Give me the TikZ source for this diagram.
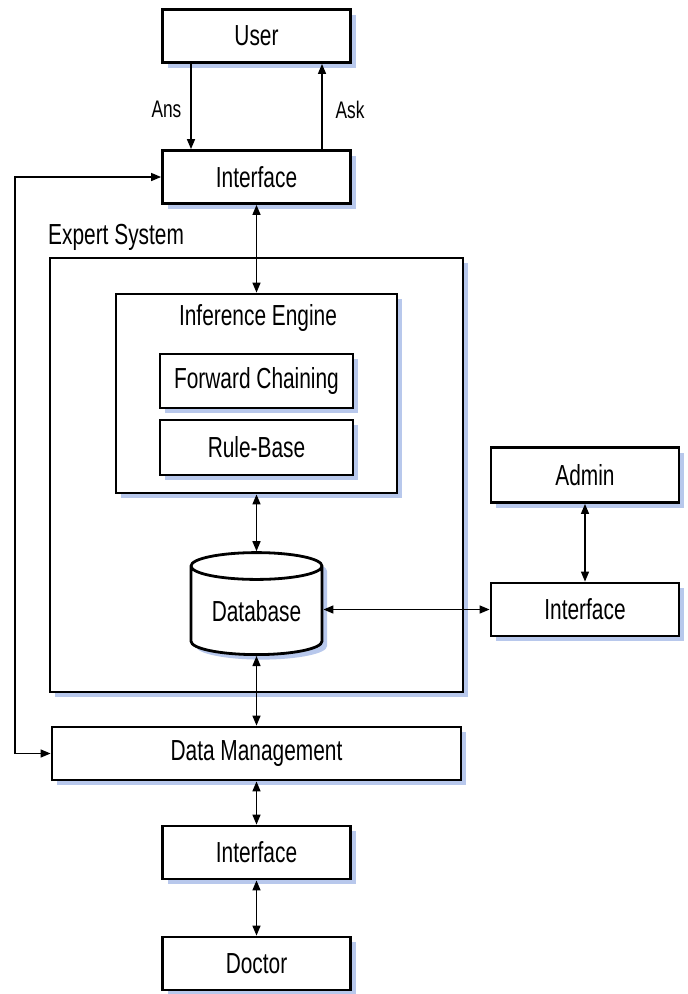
\documentclass[tikz,border=0pt]{standalone}
\usepackage{fontspec}
\newfontfamily\diagfont[FakeStretch=0.72]{Liberation Sans}
\usetikzlibrary{shapes.geometric,shadows,arrows.meta}
\definecolor{shadowblue}{RGB}{184,200,236}

\tikzset{
  box/.style={draw,line width=2.8pt,fill=white,inner sep=0pt,
    font=\diagfont\fontsize{29}{31}\selectfont,
    drop shadow={shadow xshift=5pt,shadow yshift=-5pt,fill=shadowblue,opacity=1}},
  arr/.style={line width=1.4pt,-{Triangle[length=10pt,width=8pt]}},
  darr/.style={line width=1.4pt,{Triangle[length=10pt,width=8pt]}-{Triangle[length=10pt,width=8pt]}},
  lbl/.style={font=\diagfont\fontsize{24}{26}\selectfont,inner sep=0pt}
}

\begin{document}
\begin{tikzpicture}[x=1pt,y=-1pt]
\useasboundingbox (0,0) rectangle (688,994);

\node[box,minimum width=188,minimum height=53] (user) at (256.5,36) {User};
\node[box,minimum width=188,minimum height=53] (iface) at (256.5,177) {Interface};

% expert system block
\node[box,minimum width=413,minimum height=434] (expert) at (256.5,475) {};
\node[lbl,font=\diagfont\fontsize{29}{31}\selectfont,anchor=west] at (48,237) {Expert System};

\node[box,minimum width=281,minimum height=199] (infer) at (256.5,393.5) {};
\node[lbl,font=\diagfont\fontsize{29}{31}\selectfont] (inferlbl) at (258,318) {Inference Engine};
\node[box,minimum width=193,minimum height=54] (fwd) at (256.5,381) {Forward Chaining};
\node[box,minimum width=193,minimum height=55] (rules) at (256.5,447.5) {Rule-Base};

\node[box,cylinder,shape border rotate=90,aspect=0.3,minimum width=131,minimum height=102] (db) at (256.5,611) {Database};

\node[box,minimum width=188,minimum height=55] (admin) at (585,475) {Admin};
\node[box,minimum width=188,minimum height=53] (aiface) at (585,609.5) {Interface};

\node[box,minimum width=409,minimum height=53] (dm) at (256.5,753.5) {Data Management};
\node[box,minimum width=188,minimum height=53] (diface) at (256.5,852.5) {Interface};
\node[box,minimum width=188,minimum height=53] (doctor) at (256.5,963.5) {Doctor};

\draw[arr] ([xshift=-65.5pt]user.south) -- ([xshift=-65.5pt]iface.north) node[lbl,midway,left=9pt,yshift=-3pt] {Ans};
\draw[arr] ([xshift=65.5pt]iface.north) -- ([xshift=65.5pt]user.south) node[lbl,midway,right=13pt,yshift=-3pt] {Ask};

\draw[darr] (iface.south) -- (infer.north);
\draw[darr] (infer.south) -- (db.north);
\draw[darr] (db.south) -- (dm.north);
\draw[darr] (iface.west) -- ++(-146,0) |- (dm.west);
\draw[darr] (aiface.west -| db.east) -- (aiface.west);
\draw[darr] (admin.south) -- (aiface.north);
\draw[darr] (dm.south) -- (diface.north);
\draw[darr] (diface.south) -- (doctor.north);

\end{tikzpicture}
\end{document}
